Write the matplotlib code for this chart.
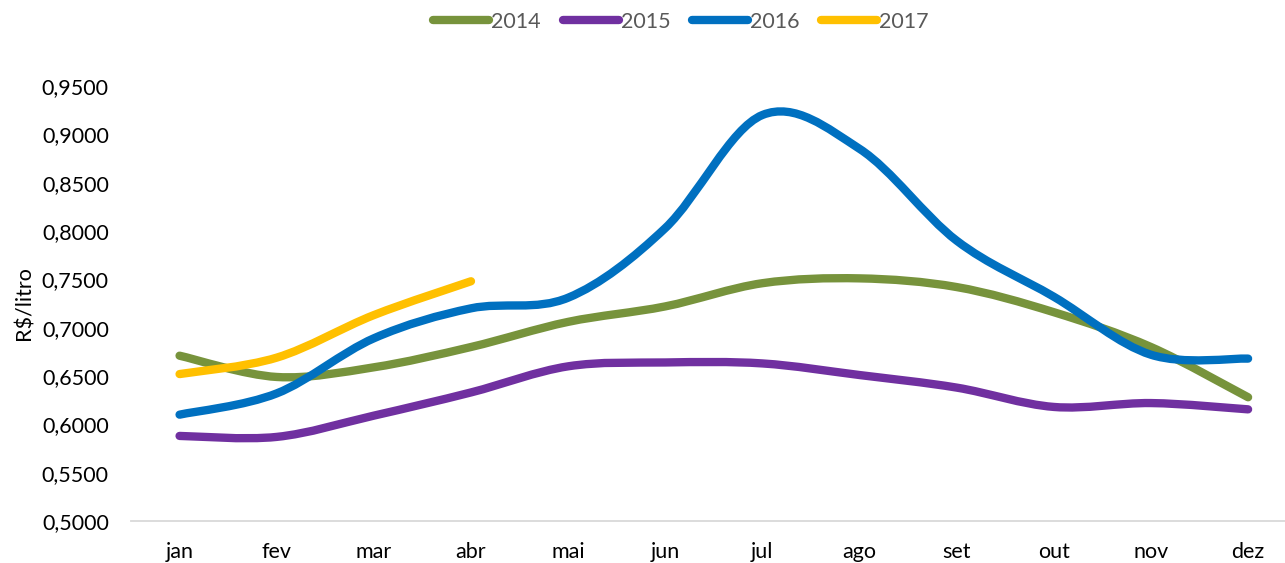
import numpy as np
import matplotlib.pyplot as plt
from matplotlib.path import Path
from matplotlib.patches import PathPatch
from matplotlib.lines import Line2D

plt.rcParams['font.family'] = ['Lato', 'DejaVu Sans']

meses = ['jan', 'fev', 'mar', 'abr', 'mai', 'jun', 'jul', 'ago', 'set', 'out', 'nov', 'dez']

v2014 = [0.671, 0.649, 0.659, 0.680, 0.706, 0.722, 0.746, 0.751, 0.742, 0.716, 0.680, 0.628]
v2015 = [0.588, 0.587, 0.609, 0.633, 0.660, 0.664, 0.663, 0.651, 0.638, 0.618, 0.622, 0.6155]
v2016 = [0.610, 0.632, 0.689, 0.720, 0.731, 0.803, 0.920, 0.885, 0.790, 0.732, 0.672, 0.668]
v2017 = [0.652, 0.669, 0.713, 0.748]

series = [('2014', v2014, '#77933C'),
          ('2015', v2015, '#7030A0'),
          ('2016', v2016, '#0070C0'),
          ('2017', v2017, '#FFC000')]


def curva_suave(x, y):
    # bezier tipo excel (catmull-rom)
    pts = np.column_stack([x, y]).astype(float)
    n = len(pts)
    verts = [pts[0]]
    codes = [Path.MOVETO]
    for i in range(n - 1):
        p0 = pts[max(i - 1, 0)]
        p1 = pts[i]
        p2 = pts[i + 1]
        p3 = pts[min(i + 2, n - 1)]
        c1 = p1 + (p2 - p0) / 6.0
        c2 = p2 - (p3 - p1) / 6.0
        verts += [c1, c2, p2]
        codes += [Path.CURVE4] * 3
    return Path(verts, codes)


fig = plt.figure(figsize=(12.85, 5.63), dpi=100)
ax = fig.add_axes([131 / 1285, 42 / 563, 1 - 131 / 1285, 435 / 563])

for nome, vals, cor in series:
    x = np.arange(len(vals))
    p = curva_suave(x, vals)
    ax.add_patch(PathPatch(p, facecolor='none', edgecolor=cor, lw=6,
                           capstyle='round', joinstyle='round'))

ax.set_xlim(-0.5, 11.38)
ax.set_ylim(0.5, 0.95)
ax.set_xticks(range(len(meses)))
ax.set_xticklabels(meses)
yt = np.arange(0.5, 0.951, 0.05)
ax.set_yticks(yt)
ax.set_yticklabels([('%.4f' % v).replace('.', ',') for v in yt])
ax.tick_params(length=0, labelsize=15.5, colors='black')
ax.tick_params(axis='x', pad=15)
ax.tick_params(axis='y', pad=16)

for s in ['top', 'right', 'left']:
    ax.spines[s].set_visible(False)
ax.spines['bottom'].set_color('#D9D9D9')
ax.spines['bottom'].set_linewidth(1.3)

ax.set_ylabel('R$/litro', fontsize=15.5, labelpad=5)

handles = [Line2D([0], [0], color=c, lw=6, solid_capstyle='round') for _, _, c in series]
leg = fig.legend(handles, [s[0] for s in series], loc='center',
                 bbox_to_anchor=(0.53, 1 - 22 / 563), ncol=4, frameon=False,
                 fontsize=15.5, handlelength=2.6, handletextpad=0.1,
                 columnspacing=1.0)
for t in leg.get_texts():
    t.set_color('#595959')

fig.savefig('out.png', dpi=100)
